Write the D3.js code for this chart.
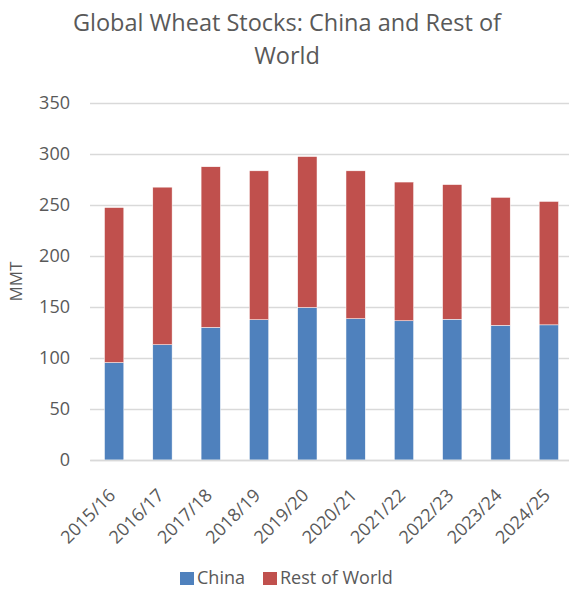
<!DOCTYPE html>
<html>
<head>
<meta charset="utf-8">
<script src="https://cdn.jsdelivr.net/npm/d3@7"></script>
<style>
    body { margin: 0; background: #fff; }
    text { font-family: "Open Sans", "Liberation Sans", sans-serif; fill: #595959; }
</style>
</head>
<body>
<svg id="chart"></svg>
<script>
// data (MMT)
var years = ['2015/16', '2016/17', '2017/18', '2018/19', '2019/20',
    '2020/21', '2021/22', '2022/23', '2023/24', '2024/25'];
var china = [95.5, 113, 130, 137.5, 149.5, 138.5, 136.5, 138, 132, 132.5];
var restOfWorld = [152, 154.5, 157.5, 146, 148, 145, 136, 132, 125.5, 121];
var yTicks = [0, 50, 100, 150, 200, 250, 300, 350];
var seriesNames = ['China', 'Rest of World'];
var colors = ['#4F81BD', '#C0504D'];

var svgWidth = 569,
    svgHeight = 590;
var margin = { top: 103, right: -4, bottom: 130, left: 90 };
var width = svgWidth - margin.left - margin.right;
var height = svgHeight - margin.top - margin.bottom;
var font = '"Open Sans", "Liberation Sans", sans-serif';

var svg = d3.select('#chart')
    .attr('width', svgWidth)
    .attr('height', svgHeight);

// title
var title = svg.append('text')
    .attr('text-anchor', 'middle')
    .attr('font-size', 23.5);
title.append('tspan').attr('x', 287).attr('y', 31).text('Global Wheat Stocks: China and Rest of');
title.append('tspan').attr('x', 287).attr('y', 64).text('World');

var g = svg.append('g')
    .attr('transform', 'translate(' + margin.left + ',' + margin.top + ')');

var x = d3.scaleBand()
    .domain(years)
    .range([0, width])
    .paddingInner(0.6)
    .paddingOuter(0.3);

var y = d3.scaleLinear()
    .domain([0, 350])
    .range([height, 0]);

// gridlines + y labels
var yAxis = g.append('g')
    .call(d3.axisLeft(y).tickValues(yTicks).tickSize(-width).tickPadding(20));
yAxis.select('.domain').remove();
yAxis.selectAll('.tick line')
    .attr('stroke', '#D9D9D9')
    .attr('stroke-width', 1.3);
yAxis.selectAll('.tick text')
    .attr('font-size', 18)
    .attr('fill', '#595959')
    .style('font-family', font);

// stacked bars
var table = years.map(function (d, i) {
    return { year: d, China: china[i], 'Rest of World': restOfWorld[i] };
});
var stack = d3.stack().keys(seriesNames)(table);

g.selectAll('.series')
    .data(stack)
    .enter()
    .append('g')
    .attr('fill', function (d, i) { return colors[i]; })
    .selectAll('rect')
    .data(function (d) { return d; })
    .enter()
    .append('rect')
    .attr('x', function (d) { return x(d.data.year); })
    .attr('y', function (d) { return y(d[1]); })
    .attr('height', function (d) { return y(d[0]) - y(d[1]); })
    .attr('width', x.bandwidth())
    .attr('stroke', '#fff')
    .attr('stroke-width', 0.5);

// x axis
var xAxis = g.append('g')
    .attr('transform', 'translate(0,' + height + ')')
    .call(d3.axisBottom(x).tickSize(0));
xAxis.select('.domain')
    .attr('stroke', '#D9D9D9')
    .attr('stroke-width', 1.3);
xAxis.selectAll('.tick text')
    .attr('font-size', 18)
    .attr('fill', '#595959')
    .style('font-family', font)
    .attr('text-anchor', 'end')
    .attr('x', 0)
    .attr('y', 0)
    .attr('dy', '0.35em')
    .attr('transform', 'translate(-2,32) rotate(-45)');

// y axis title
svg.append('text')
    .attr('transform', 'translate(22,' + (margin.top + height / 2) + ') rotate(-90)')
    .attr('text-anchor', 'middle')
    .attr('font-size', 17)
    .text('MMT');

// legend
var legendX = [180, 263];
var legend = svg.selectAll('.legend')
    .data(seriesNames)
    .enter()
    .append('g')
    .attr('transform', function (d, i) { return 'translate(' + legendX[i] + ',572)'; });
legend.append('rect')
    .attr('width', 14)
    .attr('height', 13)
    .attr('fill', function (d, i) { return colors[i]; });
legend.append('text')
    .attr('x', 17)
    .attr('y', 12)
    .attr('font-size', 18)
    .text(function (d) { return d; });
</script>
</body>
</html>
